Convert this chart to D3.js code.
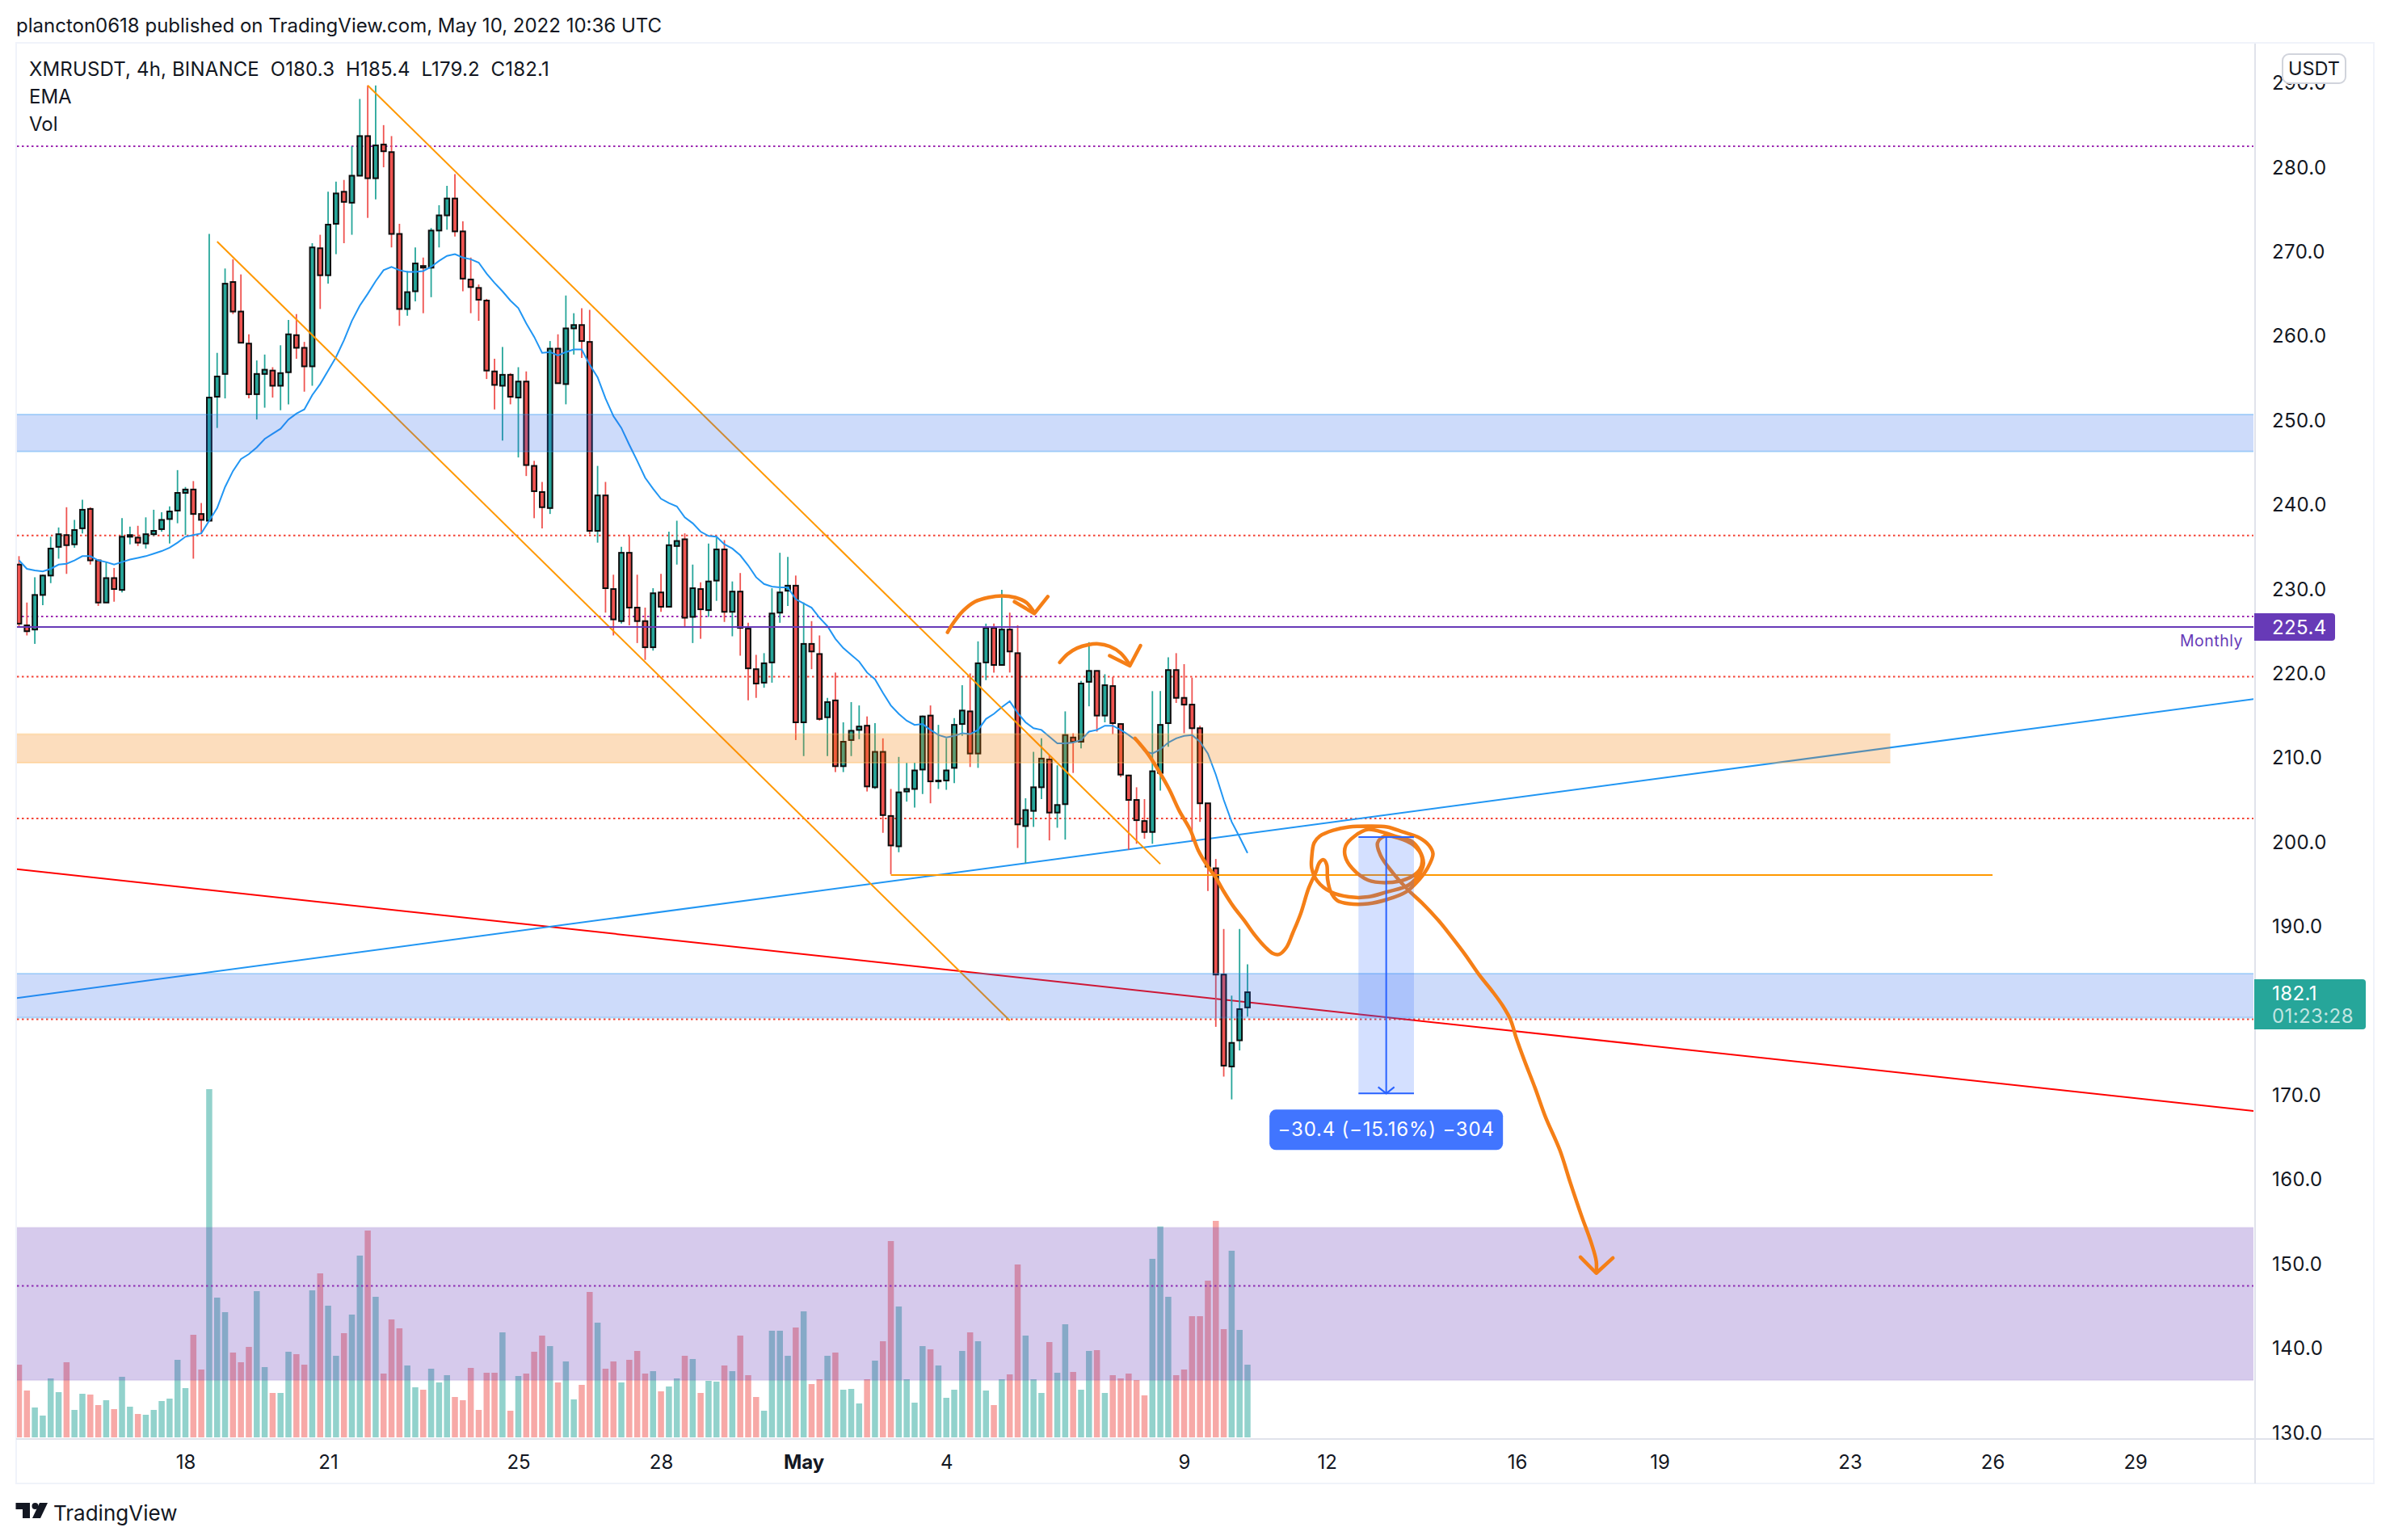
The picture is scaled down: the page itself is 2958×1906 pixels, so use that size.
<!DOCTYPE html>
<html><head><meta charset="utf-8">
<script src="https://cdn.jsdelivr.net/npm/d3@7/dist/d3.min.js"></script>
<style>
html,body{margin:0;padding:0;background:#fff}
svg{display:block}
text{font-family:Inter,"Noto Sans",sans-serif;fill:#131722}
</style></head><body>
<svg id="c" width="2958" height="1906"></svg>
<script>
// ---------- series (one value per 4h bar) ----------
const opens=[232.8,225.6,225.1,229.2,231.5,234.9,236.3,235.2,237.1,239.4,233.3,228.3,231.2,229.8,236.1,236.0,235.3,236.4,237.0,238.2,239.2,241.3,241.7,238.8,238.0,252.7,255.4,266.3,262.8,259.0,253.0,255.4,255.8,254.0,255.6,260.0,258.5,256.3,270.3,267.1,273.2,277.0,275.7,278.9,283.6,278.6,282.6,281.7,272.0,263.1,265.2,268.2,268.0,272.4,274.2,276.2,272.3,266.6,265.6,264.1,255.7,254.0,255.3,252.6,254.5,244.5,241.4,239.5,258.4,254.2,260.8,261.2,259.2,236.8,241.0,229.9,226.1,234.2,227.7,226.1,223.0,229.5,227.8,235.0,235.8,226.6,229.9,227.4,230.9,234.6,227.2,229.6,225.2,220.4,218.8,221.2,227.1,229.7,230.3,214.1,223.4,222.2,214.7,216.7,208.9,212.0,213.2,213.7,206.4,210.6,203.0,199.4,205.9,206.2,208.5,214.9,207.1,207.2,208.7,213.9,215.4,210.4,221.2,225.3,220.9,225.1,222.3,201.8,203.6,206.4,209.7,203.4,204.4,212.3,211.8,218.9,220.2,214.9,218.4,213.9,207.8,204.9,202.4,201.1,208.1,214.0,220.3,217.0,216.2,213.4,204.5,196.8,184.2,173.3,176.4,180.3];
const closes=[225.8,224.9,229.2,231.5,234.7,236.4,235.1,236.9,239.3,233.3,228.3,231.2,229.9,236.1,236.3,235.4,236.4,236.8,238.1,239.1,241.3,241.7,238.8,238.1,252.6,255.1,266.1,262.8,259.1,253.0,255.4,255.9,254.0,255.5,260.1,258.5,256.3,270.4,267.1,273.1,276.8,275.8,278.9,283.6,278.6,282.5,281.8,272.0,263.1,265.1,268.5,268.0,272.4,274.2,276.2,272.3,266.7,265.7,264.2,255.8,254.1,255.3,252.7,254.5,244.6,241.5,239.6,258.4,254.3,260.8,261.2,259.3,236.8,241.0,230.0,226.3,234.2,227.7,226.1,223.0,229.4,227.8,235.1,235.6,226.5,230.0,227.5,230.8,234.6,227.2,229.6,225.3,220.5,218.7,221.1,227.0,229.5,230.3,214.1,223.4,222.5,214.5,216.5,208.9,211.8,213.1,213.6,206.5,210.6,203.1,199.5,205.8,206.2,208.4,214.8,207.1,207.2,208.4,213.8,215.5,210.4,221.1,225.3,220.9,225.1,222.5,202.0,203.7,206.4,209.8,203.4,204.3,212.6,211.8,218.7,220.2,214.9,218.5,214.0,207.9,204.9,202.5,201.1,208.3,213.8,220.3,217.0,216.2,213.4,204.5,197.0,184.2,173.4,176.1,180.1,182.1];
const highs=[233.8,228.3,231.3,231.6,236.1,237.2,239.6,238.1,240.5,239.6,233.4,233.1,232.4,238.3,237.3,237.4,238.4,239.3,239.0,239.7,244.0,242.0,242.7,240.1,272.0,257.9,267.9,269.0,267.2,260.1,257.0,257.7,256.2,258.8,261.8,262.5,259.2,270.9,271.9,277.0,278.2,278.4,282.4,288.0,289.6,289.6,284.9,283.6,273.2,267.6,270.4,269.2,272.7,275.4,277.7,279.1,273.5,269.2,266.0,264.3,257.2,258.6,255.5,256.2,255.7,245.1,242.6,259.3,260.1,264.7,262.6,263.2,263.0,244.5,242.6,231.6,234.9,236.2,231.6,227.7,230.0,231.7,236.7,238.0,236.5,232.8,230.7,235.3,236.0,235.7,230.8,231.8,225.9,222.1,222.3,230.0,234.2,233.7,231.5,228.3,226.1,224.4,217.0,220.0,214.1,216.5,216.1,214.8,214.0,212.2,206.2,210.0,209.3,209.3,214.9,216.1,213.8,212.2,214.6,218.5,219.9,223.7,225.8,225.8,229.8,227.1,225.6,205.1,210.6,212.2,210.2,209.0,215.4,212.8,219.0,223.6,220.2,219.8,219.5,214.0,207.9,206.4,205.0,217.8,217.8,221.8,222.3,221.0,219.4,213.7,204.5,197.9,189.6,181.7,189.6,185.4];
const lows=[225.5,224.4,223.4,228.0,230.6,233.5,231.7,234.8,236.5,232.8,227.9,228.3,228.4,229.5,235.2,235.0,234.7,236.2,236.7,235.3,237.7,236.3,233.5,236.5,238.0,249.0,252.5,262.5,259.1,252.5,250.0,251.4,252.6,251.1,251.8,257.2,253.3,254.0,263.1,266.1,269.6,270.9,271.9,278.9,273.9,276.1,279.9,270.4,261.1,262.3,264.0,262.6,264.5,270.4,272.5,271.7,265.2,262.6,261.7,254.8,251.2,247.5,251.8,245.5,243.3,238.3,237.1,238.8,254.3,251.8,257.7,257.3,236.4,235.4,227.1,224.4,225.8,225.6,223.5,221.5,222.6,227.2,227.8,232.8,225.5,223.5,224.0,226.6,228.5,226.0,224.3,222.0,216.7,217.0,218.2,218.8,225.9,227.9,212.0,210.1,220.4,214.3,210.1,208.2,208.2,210.1,212.1,205.9,206.2,201.0,196.1,198.7,204.7,204.0,205.6,204.5,206.2,206.1,206.9,212.5,208.8,208.7,219.1,220.0,220.9,220.0,199.2,197.4,201.7,205.0,200.1,201.6,200.2,208.1,211.0,216.0,213.0,214.1,212.7,207.6,199.0,199.7,200.3,199.7,206.0,211.2,216.4,212.8,200.0,202.3,194.1,178.0,172.1,169.4,175.2,179.2];
const volumes=[270,174,111,81,219,168,279,102,162,159,120,138,105,225,114,87,84,102,135,144,288,183,381,252,1293,519,465,315,279,336,543,261,165,165,318,309,270,546,609,489,303,387,456,675,768,522,237,438,405,267,186,177,255,204,231,150,138,258,102,240,240,390,99,228,237,318,378,339,204,282,141,195,540,426,255,282,204,288,321,237,246,171,189,219,303,291,165,210,207,267,246,378,231,150,99,396,396,303,408,468,198,216,303,315,177,180,126,216,285,357,729,486,216,129,339,327,267,147,177,321,390,357,174,120,216,234,642,378,216,165,354,240,420,243,177,321,324,165,231,219,237,213,156,663,783,522,231,252,450,450,582,804,402,693,399,270];
const emaValues=[233.3,232.3,232.1,232.0,232.3,232.8,232.9,233.3,233.8,233.8,233.3,233.1,232.8,233.1,233.4,233.6,233.8,234.1,234.4,234.8,235.4,236.1,236.3,236.5,238.0,239.5,242.0,243.9,245.3,245.9,246.7,247.7,248.3,248.9,250.0,250.7,251.2,252.9,254.2,255.8,257.4,259.4,261.7,263.5,264.9,266.4,267.7,268.1,267.7,267.5,267.5,267.6,268.1,268.8,269.4,269.6,269.2,269.0,268.6,267.3,266.2,265.2,264.1,263.2,261.4,259.8,257.9,258.0,257.6,258.0,258.3,258.3,256.5,255.0,252.5,250.4,249.0,247.0,245.1,243.1,241.8,240.6,240.1,239.7,238.4,237.7,236.7,236.2,236.1,235.2,234.7,233.9,232.7,231.3,230.5,230.2,230.1,230.1,228.7,228.2,227.7,226.5,225.5,224.0,222.9,222.1,221.3,220.0,219.2,217.6,216.1,215.1,214.3,213.8,213.9,213.2,212.6,212.3,212.5,212.8,212.7,213.2,214.5,215.1,215.9,216.6,215.2,214.1,213.4,213.2,212.4,211.6,211.6,211.7,212.0,213.0,213.2,213.7,213.7,213.2,212.6,211.9,210.7,210.4,210.9,211.7,212.2,212.5,212.6,211.8,210.4,207.9,204.9,202.3,200.5,198.6];

// ---------- axis labels (180.0 is hidden behind the last-price tag in the reference) ----------
const priceTicks=[130,140,150,160,170,190,200,210,220,230,240,250,260,270,280,290];
const dateTicks=["2022-04-18","2022-04-21","2022-04-25","2022-04-28","2022-05-01","2022-05-04","2022-05-09","2022-05-12","2022-05-16","2022-05-19","2022-05-23","2022-05-26","2022-05-29"];
const dateLabels=["18","21","25","28","May","4","9","12","16","19","23","26","29"];

// ---------- annotations drawn on the chart: [bar number, price] ----------
const zones=[{top:250.6,bottom:246.2,toBar:null,kind:"blue"},{top:184.3,bottom:179.1,toBar:null,kind:"blue"},{top:212.7,bottom:209.3,toBar:236.1,kind:"orange"},{top:154.2,bottom:136.1,toBar:null,kind:"purple"}];
const dottedPurple=[282.4,226.65,147.3];
const dottedRed=[236.25,219.5,202.7,178.9];
const monthlyLevel=225.4;
const redTrend=[[-0.4,196.7],[282.2,168.0]];
const blueTrend=[[-0.4,181.4],[282.2,216.9]];
const channelUpper=[[44,289.6],[144,197.3]];
const channelLower=[[25,271.1],[125,178.75]];
const supportLine=[[110,196.0],[249,196.0]];
const measure={fromBar:169,toBar:176,top:200.5,bottom:170.1};
const brushA=[[117.15,224.77],[117.9,225.9],[119.1,227.3],[120.6,228.4],[122.3,228.9],[124,229.1],[125.7,228.9],[127.1,228.3],[128.1,227.1]];
const brushAHead=[[125.6,228.4],[128.1,227.0],[129.8,229.0]];
const brushB=[[131.3,221.2],[132.3,222.2],[133.5,222.9],[134.9,223.3],[136.2,223.4],[137.6,223.1],[139,222.3],[140.15,220.9]];
const brushBHead=[[137.6,222.0],[140.15,220.8],[141.5,223.2]];
const brushC=[[140.8,212.2],[142.4,210.4],[143.7,208.5],[145.1,206.2],[146.4,203.6],[147.8,201.3],[148.8,198.9],[150,197],[151,195.7],[151.9,194.2],[153.2,192.3],[154.6,190.6],[155.9,188.9],[157.3,187.4],[158.2,186.7],[159,186.6],[159.9,187.4],[160.7,189.1],[161.7,191.4],[162.7,194.4],[163.6,196.3],[164.1,197.5],[164.6,197.8],[165,197.2],[165.1,195.5],[165.5,194],[166.3,193],[167.8,192.6],[170.2,192.6],[172.6,193.1],[175,194],[176.7,195.5],[177.7,196.8],[178.4,198.5],[177.9,199.5],[176.7,200.4],[174.6,201.1],[172.6,201.7],[170.2,201.8],[167.8,201.7],[165.8,201.3],[164.1,200.6],[163.4,199.8],[163.1,198.1],[163.1,196.8],[163.8,195.3],[165.5,194],[167.8,193.4],[170.2,193.4],[172.6,194],[175.3,194.8],[176.8,196.3],[177.2,197.4],[176.7,198.9],[175.7,200],[173.6,200.6],[172.3,201],[170.2,201.4],[168.5,200.6],[167.4,199.5],[167.3,198.3],[168.2,196.8],[170.2,195.4],[172.6,195.1],[175,195.5],[176.7,196.6],[177,198.1],[176,199.5],[174,200.4],[172.3,200.6],[171.4,199.8],[171.8,198.3],[173.3,196.3],[175.3,194.2],[177,192.7],[179.1,190.6],[180.8,188.6],[182.5,186.5],[184.2,184.2],[185.9,182.2],[187.2,180.5],[188.2,178.8],[188.9,176.7],[189.9,174.1],[191.3,170.7],[192.6,167.3],[194.4,163.4],[195.7,159.6],[197.1,155.7],[198.4,152.3],[199,150.2],[199,148.9]];
const brushCHead=[[197,150.7],[199,148.8],[201.1,150.6]];

// ---------- scales ----------
const svg=d3.select("#c");
const firstBar=Date.UTC(2022,3,14,12), barMs=4*3600*1000;
const barDate=i=>new Date(firstBar+i*barMs);
const x=d3.scaleUtc().domain([barDate(0),barDate(155)]).range([23.5,1544]);
const xb=i=>x(barDate(i));
const y=d3.scaleLinear().domain([130,280]).range([1772,206]);
const vY=d3.scaleLinear().domain([0,1293]).range([1779,1348]);
const UP="#26a69a",DOWN="#ef5350";
const bars=d3.range(opens.length).map(i=>({i,o:opens[i],h:highs[i],l:lows[i],c:closes[i],v:volumes[i],up:closes[i]>=opens[i]}));
const L=21,R=2789,T=54,B=1780;

// frame
svg.append("rect").attr("width",2958).attr("height",1906).attr("fill","#fff");
svg.append("defs").append("clipPath").attr("id","plot").append("rect").attr("x",L).attr("y",T).attr("width",R-L).attr("height",B-T);
const plot=svg.append("g").attr("clip-path","url(#plot)");

// volume
plot.append("g").selectAll("rect").data(bars).join("rect")
  .attr("x",d=>xb(d.i)-3.75).attr("width",7.5).attr("y",d=>vY(d.v)).attr("height",d=>vY(0)-vY(d.v))
  .attr("fill",d=>d.up?UP:DOWN).attr("fill-opacity",.5);

const line=d3.line().x(d=>xb(d[0])).y(d=>y(d[1]));
const seg=(arr,color,w)=>plot.append("path").attr("d",line(arr)).attr("fill","none").attr("stroke",color).attr("stroke-width",w);

// trend lines and levels
dottedPurple.forEach(p=>plot.append("line").attr("x1",L).attr("x2",R).attr("y1",y(p)).attr("y2",y(p)).attr("stroke","#9c27b0").attr("stroke-width",2).attr("stroke-dasharray","2.5 3.5"));
dottedRed.forEach(p=>plot.append("line").attr("x1",L).attr("x2",R).attr("y1",y(p)).attr("y2",y(p)).attr("stroke","#f44336").attr("stroke-width",2).attr("stroke-dasharray","2.5 3.5"));
seg(redTrend,"#ff0000",2);
seg(blueTrend,"#2196f3",2);

// candles
const cg=plot.append("g");
cg.selectAll("line").data(bars).join("line")
  .attr("x1",d=>xb(d.i)).attr("x2",d=>xb(d.i)).attr("y1",d=>y(d.h)).attr("y2",d=>y(d.l))
  .attr("stroke",d=>d.up?UP:DOWN).attr("stroke-width",1.8);
cg.selectAll("rect").data(bars).join("rect")
  .attr("x",d=>xb(d.i)-2.9).attr("width",5.8)
  .attr("y",d=>y(Math.max(d.o,d.c))).attr("height",d=>Math.max(.6,Math.abs(y(d.o)-y(d.c))))
  .attr("fill",d=>d.up?UP:DOWN).attr("stroke","#0c0c0c").attr("stroke-width",2);

// EMA and drawn lines
plot.append("path").attr("d",d3.line().x((d,i)=>xb(i)).y(d=>y(d))(emaValues)).attr("fill","none").attr("stroke","#2196f3").attr("stroke-width",2);
seg(channelUpper,"#ff9800",2);
seg(channelLower,"#ff9800",2);
seg(supportLine,"#ff9800",2);

// zones on top of the candles
const zf={blue:["#2962eb",.23,"#2196f3"],orange:["#f57c00",.26,"#ffb74d"],purple:["#673ab7",.27,"#673ab7"]};
zones.forEach(z=>{
  const x2=z.toBar===null?R:xb(z.toBar);
  plot.append("rect").attr("x",L).attr("width",x2-L).attr("y",y(z.top)).attr("height",y(z.bottom)-y(z.top))
    .attr("fill",zf[z.kind][0]).attr("fill-opacity",zf[z.kind][1]);
  [z.top,z.bottom].forEach(p=>plot.append("line").attr("x1",L).attr("x2",x2).attr("y1",y(p)).attr("y2",y(p))
    .attr("stroke",zf[z.kind][2]).attr("stroke-opacity",z.kind==="purple"?.08:.3).attr("stroke-width",2));
});

// Monthly
plot.append("line").attr("x1",L).attr("x2",R).attr("y1",y(monthlyLevel)).attr("y2",y(monthlyLevel)).attr("stroke","#673ab7").attr("stroke-width",2);
svg.append("text").attr("x",2776).attr("y",y(monthlyLevel)+24).attr("text-anchor","end").attr("font-size",19.5).style("fill","#673ab7").style("letter-spacing","0.5px").text("Monthly");

// brush strokes
const curve=d3.line().x(d=>xb(d[0])).y(d=>y(d[1])).curve(d3.curveCatmullRom);
const ORANGE="#f57f17",BW=4.5;
[brushA,brushB].forEach(a=>plot.append("path").attr("d",curve(a)).attr("fill","none").attr("stroke",ORANGE).attr("stroke-width",BW).attr("stroke-linecap","round"));
plot.append("path").attr("d",curve(brushC)).attr("fill","none").attr("stroke",ORANGE).attr("stroke-width",BW).attr("stroke-linecap","round").attr("stroke-linejoin","round");
[brushAHead,brushBHead,brushCHead].forEach(a=>plot.append("path").attr("d",line(a)).attr("fill","none").attr("stroke",ORANGE).attr("stroke-width",BW).attr("stroke-linecap","round").attr("stroke-linejoin","round"));

// measure tool
const mx1=xb(measure.fromBar),mx2=xb(measure.toBar),mm=(mx1+mx2)/2,mt=y(measure.top),mb=y(measure.bottom),MB="#2962ff";
plot.append("rect").attr("x",mx1).attr("width",mx2-mx1).attr("y",mt).attr("height",mb-mt).attr("fill",MB).attr("fill-opacity",.2);
[[mx1,mt,mx2,mt],[mx1,mb,mx2,mb],[mm,mt,mm,mb]].forEach(a=>plot.append("line").attr("x1",a[0]).attr("y1",a[1]).attr("x2",a[2]).attr("y2",a[3]).attr("stroke",MB).attr("stroke-width",2));
plot.append("path").attr("d",`M${mm-10},${mb-8}L${mm},${mb}L${mm+10},${mb-8}`).attr("fill","none").attr("stroke",MB).attr("stroke-width",2);
svg.append("rect").attr("x",mm-144.5).attr("y",mb+20).attr("width",289).attr("height",50).attr("rx",8).attr("fill","#4175ff");
svg.append("text").attr("x",mm).attr("y",mb+53).attr("text-anchor","middle").attr("font-size",24).style("fill","#fff").style("letter-spacing","0.8px").text("\u221230.4 (\u221215.16%) \u2212304");

// frame lines
const FR="#f0f3fa",DV="#e0e3eb";
svg.append("rect").attr("x",20).attr("y",53).attr("width",2918).attr("height",1783).attr("fill","none").attr("stroke",FR).attr("stroke-width",2);
svg.append("line").attr("x1",2791).attr("x2",2791).attr("y1",54).attr("y2",1836).attr("stroke",DV).attr("stroke-width",2);
svg.append("line").attr("x1",20).attr("x2",2938).attr("y1",1781).attr("y2",1781).attr("stroke",DV).attr("stroke-width",2);

// axes
const xAxis=d3.axisBottom(x).tickValues(dateTicks.map(d=>new Date(d+"T00:00:00Z"))).tickSize(0).tickFormat((d,i)=>dateLabels[i]);
const gx=svg.append("g").attr("transform","translate(0,1781)").call(xAxis);
gx.select(".domain").remove();
gx.selectAll("text").attr("y",37).attr("dy",0).attr("font-size",24).style("font-family","Inter").style("fill","#131722").attr("font-weight",d=>+d===+new Date("2022-05-01T00:00:00Z")?700:400);
const yAxis=d3.axisRight(y).tickValues(priceTicks).tickSize(0).tickFormat(d3.format(".1f"));
const gy=svg.append("g").attr("transform","translate(2812,1.5)").call(yAxis);
gy.select(".domain").remove();
gy.selectAll("text").attr("x",0).attr("font-size",24).style("font-family","Inter").style("fill","#131722").style("letter-spacing","0.4px");

// price tags
svg.append("path").attr("d",`M2790,${y(monthlyLevel)-17}H2886a4,4 0 0 1 4,4V${y(monthlyLevel)+13}a4,4 0 0 1 -4,4H2790Z`).attr("fill","#673ab7");
svg.append("text").attr("x",2812).attr("y",y(monthlyLevel)+9).attr("font-size",24).style("fill","#fff").style("letter-spacing","0.4px").text("225.4");
svg.append("path").attr("d",`M2790,1212H2924a4,4 0 0 1 4,4V1270a4,4 0 0 1 -4,4H2790Z`).attr("fill","#26a69a");
svg.append("text").attr("x",2812).attr("y",1238).attr("font-size",24).style("fill","#fff").style("letter-spacing","0.4px").text("182.1");
svg.append("text").attr("x",2812).attr("y",1266).attr("font-size",24).style("fill","#fff").style("fill-opacity",.72).style("letter-spacing","0.4px").text("01:23:28");

// USDT badge
svg.append("rect").attr("x",2825).attr("y",67).attr("width",78).attr("height",36).attr("rx",8).attr("fill","#fff").attr("stroke","#d1d4dc").attr("stroke-width",2);
svg.append("text").attr("x",2864).attr("y",93).attr("text-anchor","middle").attr("font-size",23.5).text("USDT");

// header and legend
svg.append("text").attr("x",20).attr("y",40).attr("font-size",24).text("plancton0618 published on TradingView.com, May 10, 2022 10:36 UTC");
svg.append("text").attr("x",36).attr("y",94).attr("font-size",24).attr("xml:space","preserve").style("letter-spacing","0.15px").text("XMRUSDT, 4h, BINANCE  O180.3  H185.4  L179.2  C182.1");
svg.append("text").attr("x",36).attr("y",128).attr("font-size",24).text("EMA");
svg.append("text").attr("x",36).attr("y",162).attr("font-size",24).text("Vol");

// footer logo
svg.append("path").attr("d","M19.5,1860H37V1879H28V1868H19.5ZM59,1860L50,1879H40L49,1860Z").attr("fill","#131722");
svg.append("circle").attr("cx",43.5).attr("cy",1864).attr("r",4).attr("fill","#131722");
svg.append("text").attr("x",66).attr("y",1882).attr("font-size",26).text("TradingView");
</script></body></html>
